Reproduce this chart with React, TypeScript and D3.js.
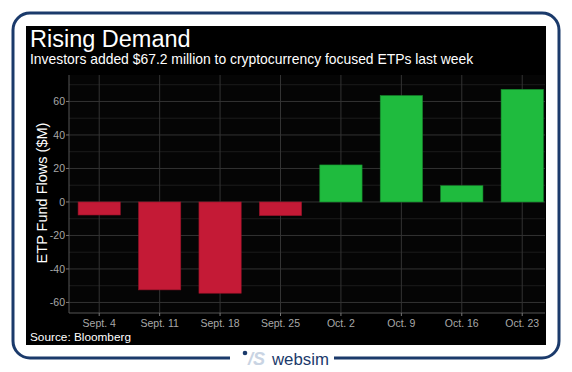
import React from "react";
import * as d3 from "d3";

const categories = ["Sept. 4", "Sept. 11", "Sept. 18", "Sept. 25", "Oct. 2", "Oct. 9", "Oct. 16", "Oct. 23"];
const flows = [-7.8, -52.5, -54.5, -8.2, 22.1, 63.5, 9.7, 67.2];
const yTicks = [-60, -40, -20, 0, 20, 40, 60];
const yMinor = [-50, -30, -10, 10, 30, 50, 70];

const W = 572;
const H = 372;
const font = "'Liberation Sans', Arial, sans-serif";

export default function App() {
  const plot = { left: 69, right: 545, top: 75, bottom: 313 };

  const x = d3
    .scaleBand<string>()
    .domain(categories)
    .range([plot.left, plot.left + 8 * 60.43])
    .paddingInner(0.3)
    .paddingOuter(0.15);

  const y = d3.scaleLinear().domain([-66.3, 75.8]).range([plot.bottom, plot.top]);

  return (
    <svg width={W} height={H} style={{ position: "absolute", left: 0, top: 0 }} fontFamily={font}>
      <rect x={0} y={0} width={W} height={H} fill="#fff" />
      {/* frame */}
      <rect x={13} y={13} width={546} height={345} rx={17} fill="none" stroke="#1b3a6b" strokeWidth={3} />
      <rect x={26} y={26} width={520} height={319} fill="#000" />
      <rect x={230} y={352} width={104} height={12} fill="#fff" />

      {/* logo */}
      <circle cx={245} cy={353} r={2.3} fill="#1b3a6b" />
      <text x={248} y={365} fontSize={18} fontStyle="italic" fontWeight="bold" fill="#c9d4e3">
        /S
      </text>
      <text x={272} y={365} fontSize={16.8} fill="#1b3a6b">
        websim
      </text>

      {/* titles */}
      <text x={30} y={47} fontSize={23.5} fill="#fff">
        Rising Demand
      </text>
      <text x={30} y={64} fontSize={13.9} fill="#fff">
        Investors added $67.2 million to cryptocurrency focused ETPs last week
      </text>

      {/* plot */}
      <g>
        <rect x={plot.left} y={plot.top} width={plot.right - plot.left} height={plot.bottom - plot.top} fill="#050505" />
        {yMinor.map((t) => (
          <line key={"m" + t} x1={plot.left} x2={plot.right} y1={y(t)} y2={y(t)} stroke="#222" strokeWidth={0.8} />
        ))}
        {yTicks.map((t) => (
          <line key={"g" + t} x1={plot.left} x2={plot.right} y1={y(t)} y2={y(t)} stroke="#333" strokeWidth={1} />
        ))}
        {categories.map((c) => (
          <line
            key={"v" + c}
            x1={x(c)! + x.bandwidth() / 2}
            x2={x(c)! + x.bandwidth() / 2}
            y1={plot.top}
            y2={plot.bottom}
            stroke="#333"
            strokeWidth={1}
          />
        ))}
        {categories.map((c, i) => {
          const v = flows[i];
          const neg = v < 0;
          return (
            <rect
              key={"b" + c}
              x={x(c)!}
              y={y(Math.max(0, v))}
              width={x.bandwidth()}
              height={Math.abs(y(v) - y(0))}
              fill={neg ? "#c41a36" : "#1fbb3e"}
              stroke={neg ? "#8e1226" : "#168a2d"}
              strokeWidth={0.6}
            />
          );
        })}
        {/* axes */}
        <line x1={plot.left} x2={plot.left} y1={plot.top} y2={plot.bottom} stroke="#555" strokeWidth={1} />
        <line x1={plot.left} x2={plot.right} y1={plot.bottom} y2={plot.bottom} stroke="#555" strokeWidth={1} />
        {yTicks.map((t) => (
          <g key={"yt" + t}>
            <line x1={plot.left - 3} x2={plot.left} y1={y(t)} y2={y(t)} stroke="#777" />
            <text x={plot.left - 4} y={y(t)} dy="0.35em" textAnchor="end" fontSize={10.5} fill="#a8a8a8">
              {t}
            </text>
          </g>
        ))}
        {categories.map((c) => (
          <g key={"xt" + c}>
            <line
              x1={x(c)! + x.bandwidth() / 2}
              x2={x(c)! + x.bandwidth() / 2}
              y1={plot.bottom}
              y2={plot.bottom + 3}
              stroke="#777"
            />
            <text x={x(c)! + x.bandwidth() / 2} y={plot.bottom + 14} textAnchor="middle" fontSize={10.5} fill="#a8a8a8">
              {c}
            </text>
          </g>
        ))}
        <text
          transform={`translate(47, 193) rotate(-90)`}
          textAnchor="middle"
          fontSize={14.5}
          fill="#fff"
        >
          ETP Fund Flows ($M)
        </text>
      </g>

      <text x={30} y={341} fontSize={11.8} fill="#fff">
        Source: Bloomberg
      </text>
    </svg>
  );
}
